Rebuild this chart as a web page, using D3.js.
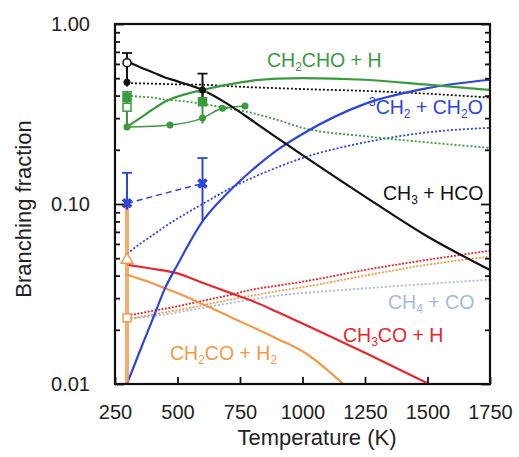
<!DOCTYPE html>
<html>
<head>
<meta charset="utf-8">
<script src="https://cdn.jsdelivr.net/npm/d3@7"></script>
<style>
  body { margin: 0; background: #fff; }
  svg text { font-family: "Liberation Sans", Arial, Helvetica, sans-serif; }
</style>
</head>
<body>
<div id="root"></div>
<script>
// theory temperature grid (K)
const theoryT = [298, 350, 400, 450, 500, 600, 700, 800, 900, 1000, 1250, 1500, 1750];

// solid lines: current model
const ch3hcoSolid   = [0.62, 0.575, 0.54, 0.505, 0.48, 0.43, 0.36, 0.29, 0.232, 0.187, 0.11, 0.066, 0.043];
const ch2choSolid   = [0.268, 0.30, 0.335, 0.37, 0.395, 0.43, 0.46, 0.485, 0.497, 0.50, 0.49, 0.46, 0.43];
const ch2Solid      = [0.0100, 0.0153, 0.0228, 0.034, 0.046, 0.080, 0.115, 0.155, 0.20, 0.245, 0.36, 0.44, 0.49];
const ch3coSolid    = [0.046, 0.0448, 0.0437, 0.0426, 0.0412, 0.0365, 0.0325, 0.0289, 0.0251, 0.0217, 0.0149, 0.0101, 0.0068];
const ch2coSolid    = [0.0405, 0.0383, 0.0363, 0.034, 0.032, 0.0278, 0.024, 0.0207, 0.0178, 0.0152, 0.0078, 0.004, 0.002];

// dotted lines: earlier model
const ch3hcoDotted  = [0.47, 0.468, 0.466, 0.464, 0.462, 0.46, 0.452, 0.445, 0.44, 0.435, 0.425, 0.41, 0.39];
const ch2choDotted  = [0.40, 0.395, 0.39, 0.38, 0.375, 0.36, 0.34, 0.32, 0.293, 0.265, 0.238, 0.22, 0.205];
const ch2Dotted     = [0.053, 0.06, 0.067, 0.075, 0.083, 0.10, 0.12, 0.14, 0.16, 0.18, 0.22, 0.25, 0.265];
const ch3coDotted   = [0.024, 0.0247, 0.0255, 0.0262, 0.027, 0.029, 0.031, 0.0335, 0.0352, 0.037, 0.043, 0.049, 0.055];
const ch2coDotted   = [0.023, 0.0236, 0.0243, 0.025, 0.0257, 0.0274, 0.0292, 0.031, 0.0328, 0.0345, 0.040, 0.046, 0.051];
const ch4coDotted   = [0.023, 0.0234, 0.0238, 0.0243, 0.025, 0.0265, 0.028, 0.0295, 0.031, 0.032, 0.034, 0.036, 0.038];

// experimental points
const expT = [298, 600];
const ch3hcoExp = [0.475, 0.43];
const ch3hcoExpOpen = [0.61];
const ch3hcoErr = [[0.45, 0.69], [0.35, 0.53]];
const ch2choExp = [0.39, 0.37];
const ch2choExpOpen = [0.345];
const ch2choErr = [[0.26, 0.42], [0.28, 0.42]];
const ch2Exp = [0.101, 0.13];
const ch2Err = [[0.093, 0.149], [0.081, 0.18]];
const ch2coExp = [0.049];
const ch2coErr = [[0.01, 0.10]];
const ch2coExpOpen = [0.0233];
const ch2choCircT = [298, 470, 600, 680, 770];
const ch2choCirc = [0.268, 0.275, 0.30, 0.34, 0.35];

const xTicks = [250, 500, 750, 1000, 1250, 1500, 1750];
const yTicks = [0.01, 0.1, 1];

const W = 519, H = 457;
const margin = { top: 24, right: 29, bottom: 73, left: 115 };
const width = W - margin.left - margin.right;
const height = H - margin.top - margin.bottom;

const green = '#3b9a3e', blue = '#2d45d8', red = '#e8262b', orange = '#f29a48', lblue = '#a3badf', black = '#111';

const svg = d3.select('#root').append('svg')
  .attr('width', W).attr('height', H).attr('viewBox', [0, 0, W, H]);

const g = svg.append('g').attr('transform', `translate(${margin.left},${margin.top})`);

const x = d3.scaleLinear().domain([250, 1750]).range([0, width]);
const y = d3.scaleLog().domain([0.01, 1]).range([height, 0]);

svg.append('defs').append('clipPath').attr('id', 'plot')
  .append('rect').attr('width', width).attr('height', height);

const plot = g.append('g').attr('clip-path', 'url(#plot)');

const line = d3.line()
  .x((d) => x(d[0]))
  .y((d) => y(d[1]))
  .curve(d3.curveMonotoneX);

function drawLine(ts, vals, color, dash, w) {
  plot.append('path')
    .datum(ts.map((t, i) => [t, vals[i]]))
    .attr('fill', 'none')
    .attr('stroke', color)
    .attr('stroke-width', w || 2.2)
    .attr('stroke-dasharray', dash || null)
    .attr('d', line);
}

// dotted (earlier model)
drawLine(theoryT, ch4coDotted, lblue, '2,2', 1.8);
drawLine(theoryT, ch2coDotted, orange, '2,1.5', 1.8);
drawLine(theoryT, ch3coDotted, red, '2,1.5', 1.8);
drawLine(theoryT, ch2Dotted, blue, '2,2', 1.8);
drawLine(theoryT, ch2choDotted, green, '2,2', 1.8);
drawLine(theoryT, ch3hcoDotted, black, '2,2', 1.8);

// experiment connectors
drawLine(expT, ch2Exp, blue, '6,4', 1.5);
drawLine(ch2choCircT, ch2choCirc, green, null, 1.5);

// solid (current model)
drawLine(theoryT, ch2coSolid, orange);
drawLine(theoryT, ch3coSolid, red);
drawLine(theoryT, ch2Solid, blue);
drawLine(theoryT, ch2choSolid, green);
drawLine(theoryT, ch3hcoSolid, black);

// error bars
function drawErr(ts, errs, color, w, op) {
  const eb = plot.append('g').attr('stroke', color).attr('stroke-width', w).attr('opacity', op || 1);
  errs.forEach((e, i) => {
    eb.append('line')
      .attr('x1', x(ts[i])).attr('x2', x(ts[i]))
      .attr('y1', y(e[0])).attr('y2', y(e[1]));
    eb.append('line').attr('stroke-width', 1.8)
      .attr('x1', x(ts[i]) - 5).attr('x2', x(ts[i]) + 5)
      .attr('y1', y(e[1])).attr('y2', y(e[1]));
  });
}
drawErr(expT.slice(0, 1), ch2coErr, orange, 4, 0.8);
drawErr(expT, ch2choErr, green, 2);
drawErr(expT, ch3hcoErr, black, 2);
drawErr(expT, ch2Err, blue, 2);

// markers
function squares(ts, vals, color, open) {
  plot.append('g').selectAll('rect')
    .data(vals)
    .join('rect')
    .attr('x', (d, i) => x(ts[i]) - 4)
    .attr('y', (d) => y(d) - 4)
    .attr('width', 8).attr('height', 8)
    .attr('fill', open ? '#fff' : color)
    .attr('stroke', color).attr('stroke-width', 1.5);
}
function circles(ts, vals, color) {
  plot.append('g').selectAll('circle')
    .data(vals)
    .join('circle')
    .attr('cx', (d, i) => x(ts[i]))
    .attr('cy', (d) => y(d))
    .attr('r', 3.5)
    .attr('fill', color);
}
circles(ch2choCircT, ch2choCirc, green);
squares(expT, ch2choExp, green, false);
squares(expT.slice(0, 1), ch2choExpOpen, green, true);
circles(expT, ch3hcoExp, black);
plot.append('circle').datum(ch3hcoExpOpen[0])
  .attr('cx', x(expT[0])).attr('cy', (d) => y(d)).attr('r', 4)
  .attr('fill', '#fff').attr('stroke', black).attr('stroke-width', 1.5);
squares(expT.slice(0, 1), ch2coExpOpen, orange, true);
plot.append('path').datum(ch2coExp[0])
  .attr('transform', (d) => `translate(${x(expT[0])},${y(d)})`)
  .attr('d', d3.symbol(d3.symbolTriangle, 60))
  .attr('fill', '#fff').attr('stroke', orange).attr('stroke-width', 1.5);
plot.append('g').selectAll('path')
  .data(ch2Exp)
  .join('path')
  .attr('transform', (d, i) => `translate(${x(expT[i])},${y(d)}) rotate(45)`)
  .attr('d', d3.symbol(d3.symbolCross, 70))
  .attr('fill', blue);

// axes
const tickFont = 20;
const minor = y.ticks().filter((d) => !yTicks.includes(d));

g.append('g')
  .call(d3.axisLeft(y).tickValues(yTicks).tickFormat(d3.format('.2f')).tickSize(-9).tickPadding(25))
  .call((a) => a.select('.domain').remove())
  .call((a) => a.selectAll('text').attr('font-size', tickFont).attr('fill', '#222'));
g.append('g')
  .call(d3.axisLeft(y).tickValues(minor).tickFormat('').tickSize(-5))
  .call((a) => a.select('.domain').remove());
g.append('g').attr('transform', `translate(${width},0)`)
  .call(d3.axisRight(y).tickValues(yTicks).tickFormat('').tickSize(-9))
  .call((a) => a.select('.domain').remove());
g.append('g').attr('transform', `translate(${width},0)`)
  .call(d3.axisRight(y).tickValues(minor).tickFormat('').tickSize(-5))
  .call((a) => a.select('.domain').remove());
g.append('g').attr('transform', `translate(0,${height})`)
  .call(d3.axisBottom(x).tickValues(xTicks).tickFormat(d3.format('d')).tickSize(-7).tickPadding(21))
  .call((a) => a.select('.domain').remove())
  .call((a) => a.selectAll('text').attr('font-size', tickFont).attr('fill', '#222'));
g.selectAll('.tick line').attr('stroke', black).attr('stroke-width', 1.8);

g.append('rect')
  .attr('width', width).attr('height', height)
  .attr('fill', 'none').attr('stroke', black).attr('stroke-width', 2.2);

svg.append('text')
  .attr('x', 317).attr('y', 445)
  .attr('text-anchor', 'middle').attr('font-size', 22).attr('fill', '#222')
  .text('Temperature (K)');
svg.append('text')
  .attr('transform', 'translate(31,209) rotate(-90)')
  .attr('text-anchor', 'middle').attr('font-size', 22).attr('fill', '#222')
  .text('Branching fraction');

// channel labels: [x, baseline, color, parts] ; parts: [text, 'sub'|'sup'|null]
const labels = [
  [267, 67, green, [['CH', null], ['2', 'sub'], ['CHO + H', null]]],
  [369, 114, blue, [['3', 'sup'], ['CH', null], ['2', 'sub'], [' + CH', null], ['2', 'sub'], ['O', null]]],
  [383, 200, black, [['CH', null], ['3', 'sub'], [' + HCO', null]]],
  [388, 309, lblue, [['CH', null], ['4', 'sub'], [' + CO', null]]],
  [343, 342, red, [['CH', null], ['3', 'sub'], ['CO + H', null]]],
  [170, 360, orange, [['CH', null], ['2', 'sub'], ['CO + H', null], ['2', 'sub']]]
];
labels.forEach(([lx, ly, color, parts]) => {
  const t = svg.append('text').attr('x', lx).attr('y', ly)
    .attr('font-size', 19.5).attr('fill', color);
  parts.forEach(([s, kind]) => {
    const sp = t.append('tspan').text(s);
    if (kind === 'sub') sp.attr('font-size', 12).attr('dy', 4).attr('class', kind);
    if (kind === 'sup') sp.attr('font-size', 12).attr('dy', -8).attr('class', kind);
  });
  // back to the baseline after a sub/superscript
  t.selectAll('tspan').each(function (d, i, nodes) {
    const prev = i > 0 ? nodes[i - 1].getAttribute('class') : null;
    if (prev === 'sub' && !this.getAttribute('class')) d3.select(this).attr('dy', -4);
    if (prev === 'sup' && !this.getAttribute('class')) d3.select(this).attr('dy', 8);
  });
});
</script>
</body>
</html>
